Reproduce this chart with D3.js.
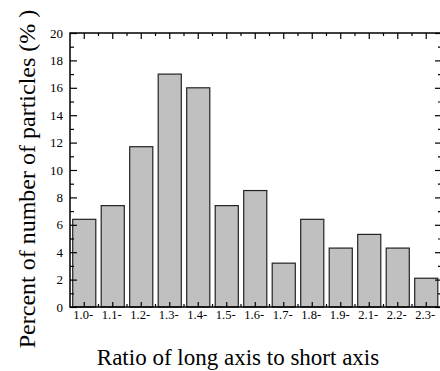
<html>
  <head>
    <script src="https://d3js.org/d3.v7.min.js"></script>
    <style>
      body { margin: 0; background: white; }
      svg text { font-family: "Liberation Serif", "Times New Roman", serif; fill: #000; }
      .axis .domain { display: none; }
      .axis line { stroke: #000; stroke-width: 1.2; }
    </style>
  </head>
  <body>
    <svg id="chart" width="440" height="371"></svg>
    <script>
      // data
      var categories = ['1.0-', '1.1-', '1.2-', '1.3-', '1.4-', '1.5-', '1.6-', '1.7-', '1.8-', '1.9-', '2.1-', '2.2-', '2.3-'];
      var percents = [6.4, 7.4, 11.7, 17.0, 16.0, 7.4, 8.5, 3.2, 6.4, 4.3, 5.3, 4.3, 2.1];
      var yMajor = [0, 2, 4, 6, 8, 10, 12, 14, 16, 18, 20];
      var yMinor = [1, 3, 5, 7, 9, 11, 13, 15, 17, 19];

      var m = { left: 70, right: 442, top: 33, bottom: 307 };
      var svg = d3.select('#chart');

      var x = d3.scaleBand()
        .domain(categories)
        .range([m.left, 440.5])
        .paddingInner(0.19)
        .paddingOuter(0.095);

      var y = d3.scaleLinear().domain([0, 20]).range([m.bottom, m.top]);

      // bars
      svg.append('g').selectAll('rect')
        .data(categories)
        .enter().append('rect')
        .attr('x', function(d) { return x(d); })
        .attr('y', function(d, i) { return y(percents[i]); })
        .attr('width', x.bandwidth())
        .attr('height', function(d, i) { return y(0) - y(percents[i]); })
        .attr('fill', '#c0c0c0')
        .attr('stroke', '#222')
        .attr('stroke-width', 1.2);

      // boundaries between bands, for the minor ticks on top / bottom
      var gap = (x.step() - x.bandwidth()) / 2;
      var bounds = categories.slice(0, -1).map(function(c) { return x(c) + x.bandwidth() + gap; });

      // left axis (ticks inside)
      var ly = svg.append('g').attr('class', 'axis').attr('transform', 'translate(' + m.left + ',0)')
        .call(d3.axisLeft(y).tickValues(yMajor).tickSize(-7).tickPadding(7));
      ly.selectAll('text').style('font-size', '13px');
      svg.append('g').attr('class', 'axis').attr('transform', 'translate(' + m.left + ',0)')
        .call(d3.axisLeft(y).tickValues(yMinor).tickSize(-4).tickFormat(''));

      // right axis
      svg.append('g').attr('class', 'axis').attr('transform', 'translate(' + m.right + ',0)')
        .call(d3.axisRight(y).tickValues(yMajor).tickSize(-7).tickFormat(''));
      svg.append('g').attr('class', 'axis').attr('transform', 'translate(' + m.right + ',0)')
        .call(d3.axisRight(y).tickValues(yMinor).tickSize(-4).tickFormat(''));

      // bottom axis
      var bx = svg.append('g').attr('class', 'axis').attr('transform', 'translate(0,' + m.bottom + ')')
        .call(d3.axisBottom(x).tickSize(-5).tickPadding(3));
      bx.selectAll('text').style('font-size', '12.5px').attr('dx', '-1');
      bx.selectAll('.minor').data(bounds).enter().append('line')
        .attr('x1', function(d) { return d; }).attr('x2', function(d) { return d; })
        .attr('y1', 0).attr('y2', -3);

      // top axis
      var tx = svg.append('g').attr('class', 'axis').attr('transform', 'translate(0,' + m.top + ')')
        .call(d3.axisTop(x).tickSize(-6).tickFormat(''));
      tx.selectAll('.minor').data(bounds).enter().append('line')
        .attr('x1', function(d) { return d; }).attr('x2', function(d) { return d; })
        .attr('y1', 0).attr('y2', 3);

      // frame
      svg.append('rect')
        .attr('x', m.left).attr('y', m.top)
        .attr('width', m.right - m.left).attr('height', m.bottom - m.top)
        .attr('fill', 'none').attr('stroke', '#000').attr('stroke-width', 1.5);

      // titles
      svg.append('text')
        .attr('x', 238).attr('y', 365)
        .attr('text-anchor', 'middle')
        .style('font-size', '23px')
        .text('Ratio of long axis to short axis');

      svg.append('text')
        .attr('transform', 'translate(35,179) rotate(-90)')
        .attr('text-anchor', 'middle')
        .style('font-size', '24px')
        .text('Percent of number of particles (% )');
    </script>
  </body>
</html>
